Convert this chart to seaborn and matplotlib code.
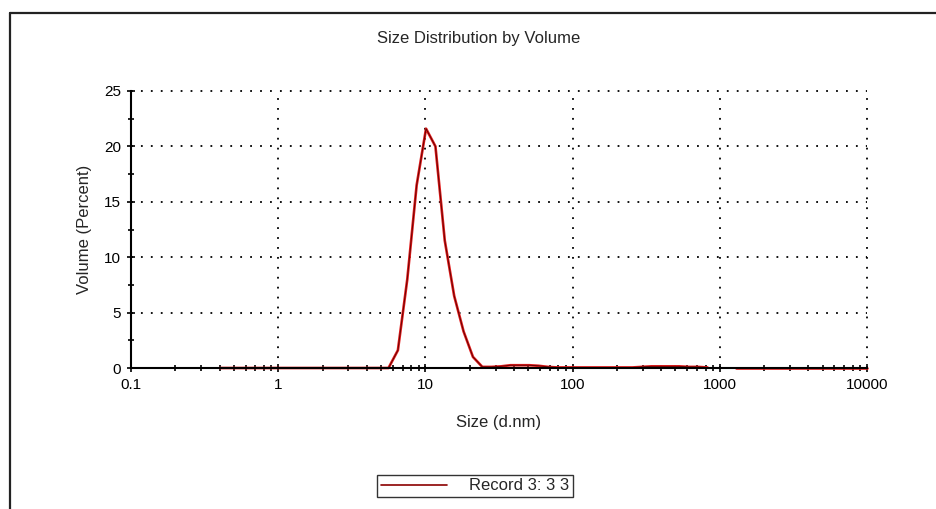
import numpy as np
import pandas as pd
import seaborn as sns
import matplotlib.pyplot as plt
import matplotlib.lines as mlines
from matplotlib.ticker import FixedLocator, FixedFormatter, LogLocator, NullFormatter, MultipleLocator

# Size bins (d.nm) and volume (%)
sizes = [0.4, 5.615, 6.503, 7.531, 8.721, 10.1, 11.7, 13.54, 15.69, 18.17,
         21.04, 24.36, 28.21, 32.67, 37.84, 43.82, 50.75, 58.77, 68.06, 78.82,
         91.28, 105.7, 255.0, 295.3, 342.0, 396.1, 458.7, 531.2, 615.1, 712.4,
         825.0, 1281, 10000]
volume = [0, 0, 1.6, 8.0, 16.5, 21.6, 20.0, 11.5, 6.5, 3.3,
          1.0, 0.1, 0.1, 0.15, 0.25, 0.25, 0.25, 0.2, 0.1, 0.05,
          0.05, 0.05, 0.05, 0.1, 0.15, 0.15, 0.15, 0.15, 0.1, 0.1,
          0.05, 0, 0]
# the trace has a small gap between ~825 and ~1281 nm
part = [1] * 31 + [2] * 2

x_ticks = [0.1, 1, 10, 100, 1000, 10000]
x_labels = ["0.1", "1", "10", "100", "1000", "10000"]
y_ticks = [0, 5, 10, 15, 20, 25]

df = pd.DataFrame({"size": sizes, "volume": volume, "part": part})

sns.set_style("white")
plt.rcParams['font.family'] = ['Liberation Sans', 'DejaVu Sans']

fig = plt.figure(figsize=(9.36, 5.09), dpi=100)
ax = fig.add_axes([131 / 936, 1 - 368 / 509, 736 / 936, 277 / 509])

# red trace with a dark core, like the instrument export
sns.lineplot(data=df, x="size", y="volume", units="part", estimator=None,
             color="#e01a1a", lw=1.9, ax=ax, clip_on=False)
sns.lineplot(data=df, x="size", y="volume", units="part", estimator=None,
             color="#5a0000", lw=0.6, ax=ax, clip_on=False)

ax.set_xscale("log")
ax.set_xlim(0.1, 10000)
ax.set_ylim(0, 25)

ax.xaxis.set_major_locator(FixedLocator(x_ticks))
ax.xaxis.set_major_formatter(FixedFormatter(x_labels))
ax.xaxis.set_minor_locator(LogLocator(base=10, subs=np.arange(2, 10)))
ax.xaxis.set_minor_formatter(NullFormatter())
ax.yaxis.set_major_locator(FixedLocator(y_ticks))
ax.yaxis.set_minor_locator(MultipleLocator(2.5))

ax.tick_params(which="both", bottom=True, left=True, direction="inout",
               color="black", width=1.2, labelsize=11, labelcolor="black")
ax.tick_params(which="major", length=6, pad=4)
ax.tick_params(which="minor", length=5)

ax.grid(True, which="major", color="black", linestyle=(0, (1, 4.5)), lw=1.3)
for gl in ax.get_xgridlines() + ax.get_ygridlines():
    gl.set_clip_on(False)

for s in ["top", "right"]:
    ax.spines[s].set_visible(False)
for s in ["left", "bottom"]:
    ax.spines[s].set_color("black")
    ax.spines[s].set_linewidth(1.5)

ax.set_xlabel("Size (d.nm)", fontsize=12, labelpad=17)
ax.set_ylabel("Volume (Percent)", fontsize=12, labelpad=9)

fig.text(479 / 936, 1 - 38 / 509, "Size Distribution by Volume",
         ha="center", va="center", fontsize=12)

rec = mlines.Line2D([], [], color="#8b0000", lw=1.2, label="Record 3: 3 3")
leg = fig.legend(handles=[rec], loc="center", bbox_to_anchor=(475 / 936, 1 - 486 / 509),
                 fontsize=12, frameon=True, fancybox=False, handlelength=4.0,
                 handletextpad=1.3, borderpad=0.2, borderaxespad=0)
leg.get_frame().set_edgecolor("black")
leg.get_frame().set_linewidth(1.0)

# outer border of the exported report
fig.add_artist(mlines.Line2D([10 / 936, 10 / 936], [0, 1 - 13 / 509],
                             color="#222222", lw=1.6, transform=fig.transFigure))
fig.add_artist(mlines.Line2D([10 / 936, 1], [1 - 13 / 509, 1 - 13 / 509],
                             color="#222222", lw=1.6, transform=fig.transFigure))

fig.savefig("out.png", dpi=100)
